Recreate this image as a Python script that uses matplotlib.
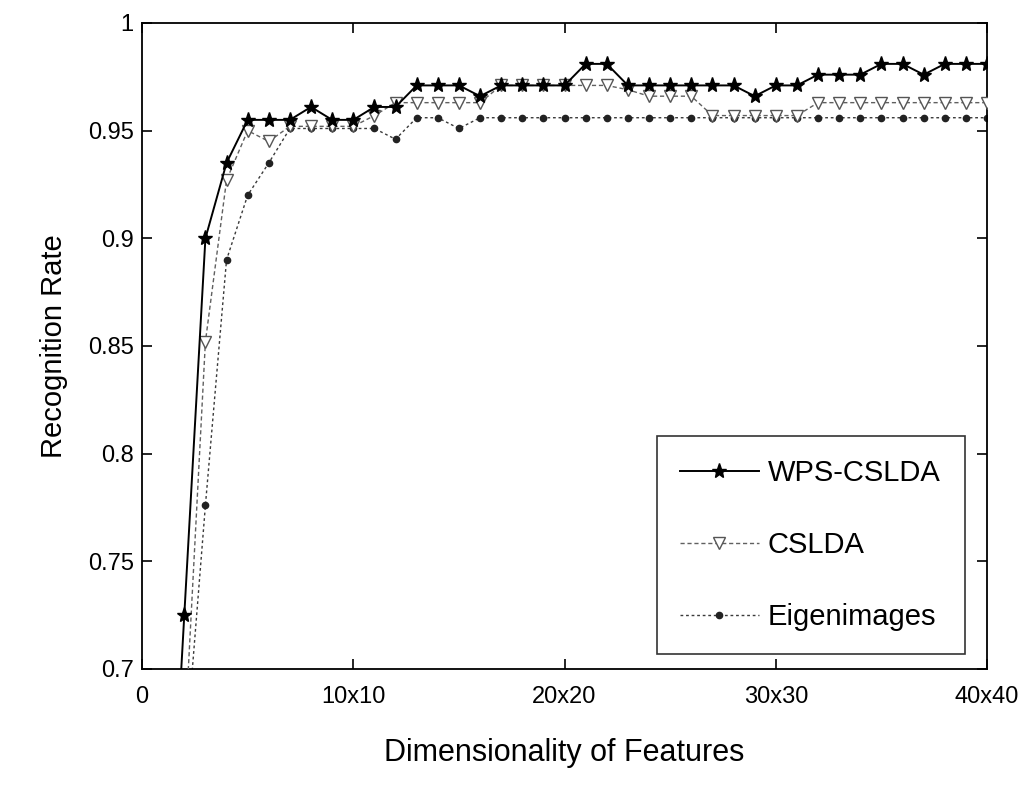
import matplotlib
matplotlib.use("Agg")
import matplotlib.pyplot as plt

# ---- data ----
dims = list(range(1, 41))
wps_rate = [0.55, 0.725, 0.900, 0.935, 0.955, 0.955, 0.955, 0.961, 0.955, 0.955,
            0.961, 0.961, 0.971, 0.971, 0.971, 0.966, 0.971, 0.971, 0.971, 0.971,
            0.981, 0.981, 0.971, 0.971, 0.971, 0.971, 0.971, 0.971, 0.966, 0.971,
            0.971, 0.976, 0.976, 0.976, 0.981, 0.981, 0.976, 0.981, 0.981, 0.981]
cslda_dims = dims[1:]
cslda_rate = [0.664, 0.852, 0.927, 0.950, 0.945, 0.952, 0.952, 0.952, 0.952,
              0.957, 0.963, 0.963, 0.963, 0.963, 0.963, 0.971, 0.971, 0.971,
              0.971, 0.971, 0.971, 0.969, 0.966, 0.966, 0.966, 0.957, 0.957,
              0.957, 0.957, 0.957, 0.963, 0.963, 0.963, 0.963, 0.963, 0.963,
              0.963, 0.963, 0.963]
eig_dims = dims[1:]
eig_rate = [0.653, 0.776, 0.890, 0.920, 0.935, 0.951, 0.951, 0.951, 0.951,
            0.951, 0.946, 0.956, 0.956, 0.951, 0.956, 0.956, 0.956, 0.956,
            0.956, 0.956, 0.956, 0.956, 0.956, 0.956, 0.956, 0.956, 0.956,
            0.956, 0.956, 0.956, 0.956, 0.956, 0.956, 0.956, 0.956, 0.956,
            0.956, 0.956, 0.956]
series_names = ["WPS-CSLDA", "CSLDA", "Eigenimages"]
x_ticks = [0, 10, 20, 30, 40]
x_tick_labels = ["0", "10x10", "20x20", "30x30", "40x40"]
y_ticks = [0.7, 0.75, 0.8, 0.85, 0.9, 0.95, 1.0]
y_tick_labels = ["0.7", "0.75", "0.8", "0.85", "0.9", "0.95", "1"]

plt.rcParams['font.family'] = ['Liberation Sans', 'DejaVu Sans']

fig = plt.figure(figsize=(10.3, 7.87), dpi=100)
ax = fig.add_axes([0.1379, 0.150, 0.8204, 0.8208])

ax.plot(eig_dims, eig_rate, color='#3a3a3a', lw=1.0, linestyle=(0, (2, 2)),
        marker='.', ms=9, mfc='#222222', mec='#222222', label=series_names[2], zorder=2)
ax.plot(cslda_dims, cslda_rate, color='#606060', lw=1.0, linestyle=(0, (3, 2)),
        marker='v', ms=8, mfc='white', mec='#555555', mew=1.0, label=series_names[1], zorder=3)
ax.plot(dims, wps_rate, color='black', lw=1.4, linestyle='-',
        marker='*', ms=11, mfc='black', mec='black', label=series_names[0], zorder=4)

ax.set_xlim(0, 40)
ax.set_ylim(0.7, 1.0)
ax.set_xticks(x_ticks)
ax.set_xticklabels(x_tick_labels)
ax.set_yticks(y_ticks)
ax.set_yticklabels(y_tick_labels)
ax.tick_params(direction='in', length=7, width=1.2, top=True, right=True,
               labelsize=17, colors='black')
ax.tick_params(axis='x', pad=12)
ax.tick_params(axis='y', pad=6)
for s in ax.spines.values():
    s.set_linewidth(1.3)
    s.set_color('black')

ax.set_xlabel("Dimensionality of Features", fontsize=22, labelpad=22)
ax.set_ylabel("Recognition Rate", fontsize=21, labelpad=14)

handles, labels = ax.get_legend_handles_labels()
order = [2, 1, 0]
leg = ax.legend([handles[i] for i in order], [labels[i] for i in order],
                loc='lower left', bbox_to_anchor=(0.609, 0.023, 0.365, 0.341),
                mode='expand', fontsize=21, handlelength=2.7, handletextpad=0.3,
                labelspacing=1.5, borderpad=0.8, frameon=True, fancybox=False,
                edgecolor='black', borderaxespad=0)
leg.get_frame().set_linewidth(1.2)

fig.savefig("out.png", dpi=100, facecolor='white')
